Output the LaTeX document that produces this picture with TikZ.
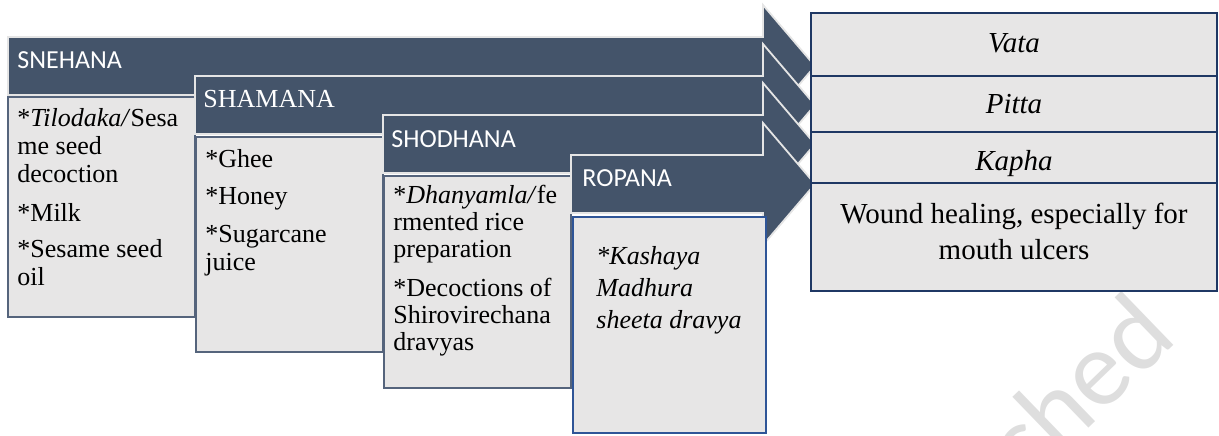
\documentclass[tikz,border=0pt]{standalone}
\usepackage{fontspec}
\setmainfont{Liberation Serif}
\newfontfamily\barfont{Carlito}
\definecolor{barblue}{HTML}{44546A}
\definecolor{boxgray}{HTML}{E7E6E6}
\definecolor{boxline}{HTML}{55647C}
\definecolor{ropaline}{HTML}{2F5597}
\definecolor{doshaline}{HTML}{1F3864}
\definecolor{markgray}{HTML}{DEDEDE}
% one block arrow: left x, top y of its bar
\newcommand{\stagearrow}[2]{%
  \filldraw[bar] (#1,#2) -- (763,#2) -- (763,#2-32) -- (815,#2+29)
    -- (763,#2+90) -- (763,#2+58) -- (#1,#2+58) -- cycle;}
\tikzset{
  bar/.style={fill=barblue, draw=white!90!black, line width=0.9pt},
  listbox/.style={fill=boxgray, draw=boxline, line width=1pt},
  doshabox/.style={fill=boxgray, draw=doshaline, line width=1.1pt},
  barlabel/.style={anchor=base west, inner sep=0, text=white,
                   font=\barfont\fontsize{13}{15}\selectfont},
  % anchored on the baseline of the last line
  listtext/.style={anchor=base west, inner sep=0, align=left,
                   font=\fontsize{13}{14}\selectfont},
  doshatext/.style={anchor=base, inner sep=0, align=center,
                    font=\fontsize{14.5}{18}\selectfont}
}
\begin{document}
\begin{tikzpicture}[x=0.5pt, y=-0.5pt]
  \useasboundingbox (0,0) rectangle (1219,435);
  % watermark
  \node[rotate=44, anchor=base west, inner sep=0, text=markgray,
        font=\barfont\fontsize{54}{54}\selectfont] (mark) at (1026,488) {ched};
  % stages
  \stagearrow{8}{37}
  \node[barlabel] (snehana) at (17,68) {SNEHANA};
  \draw[listbox] (8,97) rectangle (195,317);
  \node[listtext] (snehanatext) at (17,285)
    {*\textit{Tilodaka/}Sesa\\me seed\\decoction\\[5.5pt]*Milk\\[4pt]*Sesame seed\\oil};
  \stagearrow{195}{76}
  \node[barlabel, font=\fontsize{13}{15}\selectfont] (shamana) at (203,107) {SHAMANA};
  \draw[listbox] (196,137) rectangle (383,352);
  \node[listtext] (shamanatext) at (205,270)
    {*Ghee\\[4.5pt]*Honey\\[5pt]*Sugarcane\\juice};
  \stagearrow{383}{115}
  \node[barlabel] (shodhana) at (391,147) {SHODHANA};
  \draw[listbox] (384,176) rectangle (571,388);
  \node[listtext, font=\fontsize{13}{13.5}\selectfont] (shodhanatext) at (393,350)
    {*\textit{Dhanyamla/}fe\\rmented rice\\preparation\\[6pt]*Decoctions of\\Shirovirechana\\dravyas};
  \stagearrow{571}{155}
  \node[barlabel] (ropana) at (582,186) {ROPANA};
  \draw[listbox, draw=ropaline] (573,217) rectangle (766,433);
  \node[listtext, font=\itshape\fontsize{13}{16}\selectfont] (ropanatext) at (596,328)
    {*Kashaya\\Madhura\\sheeta dravya};
  % doshas
  \draw[doshabox] (811,13) rectangle (1217,76);
  \draw[doshabox] (811,76) rectangle (1217,132);
  \draw[doshabox] (811,132) rectangle (1217,183);
  \draw[doshabox] (811,183) rectangle (1217,291);
  \node[doshatext] (vata) at (1014,52) {\textit{Vata}};
  \node[doshatext] (pitta) at (1014,113) {\textit{Pitta}};
  \node[doshatext] (kapha) at (1014,170) {\textit{Kapha}};
  \node[doshatext] (healing) at (1014,259) {Wound healing, especially for\\mouth ulcers};
\end{tikzpicture}
\end{document}
